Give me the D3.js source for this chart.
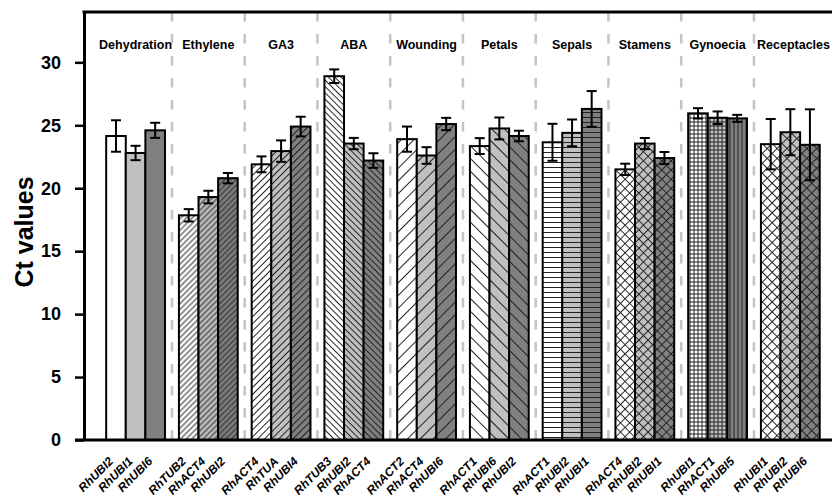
<!DOCTYPE html>
<html>
<head>
<meta charset="utf-8">
<script src="https://cdn.jsdelivr.net/npm/d3@7"></script>
<style>
body { margin: 0; background: #fff; }
text { font-family: Arial, "Liberation Sans", sans-serif; }
</style>
</head>
<body>
<div id="chart"></div>
<script>
//////////
// Data //
//////////

var groups = ["Dehydration", "Ethylene", "GA3", "ABA", "Wounding", "Petals", "Sepals", "Stamens", "Gynoecia", "Receptacles"];

var genes = [
	["RhUBI2", "RhUBI1", "RhUBI6"],
	["RhTUB2", "RhACT4", "RhUBI2"],
	["RhACT4", "RhTUA", "RhUBI4"],
	["RhTUB3", "RhUBI2", "RhACT4"],
	["RhACT2", "RhACT4", "RhUBI6"],
	["RhACT1", "RhUBI6", "RhUBI2"],
	["RhACT1", "RhUBI2", "RhUBI1"],
	["RhACT4", "RhUBI2", "RhUBI1"],
	["RhUBI1", "RhACT1", "RhUBI5"],
	["RhUBI1", "RhUBI2", "RhUBI6"]
];

var ctMeans = [
	[24.15, 22.8, 24.6],
	[17.85, 19.3, 20.8],
	[21.9, 22.95, 24.9],
	[28.9, 23.55, 22.2],
	[23.9, 22.6, 25.1],
	[23.35, 24.75, 24.15],
	[23.65, 24.4, 26.3],
	[21.5, 23.55, 22.4],
	[25.95, 25.6, 25.55],
	[23.5, 24.45, 23.45]
];

var ctErrors = [
	[1.25, 0.57, 0.6],
	[0.49, 0.5, 0.41],
	[0.63, 0.85, 0.78],
	[0.54, 0.45, 0.58],
	[1.0, 0.66, 0.49],
	[0.63, 0.87, 0.42],
	[1.47, 1.06, 1.42],
	[0.45, 0.44, 0.48],
	[0.41, 0.5, 0.28],
	[2.0, 1.83, 2.82]
];

var yTicks = [0, 5, 10, 15, 20, 25, 30];

////////////
// Styles //
////////////

var barFills = ["#ffffff", "#c0c0c0", "#808080"];
var patternKinds = ["solid", "fwd", "fwd", "back", "fwd", "back", "horiz", "cross", ["grid", "grid", "vert"], "cross"];
var patternGaps = [0, 4, 5, 4.5, 9, 9, 5, 6.5, 4, 7];

///////////////////
// Initial setup //
///////////////////

var width = 832;
var height = 498;
var plotLeft = 84, plotRight = 832, plotTop = 12, plotBottom = 440;

var svg = d3.select("#chart").append("svg")
	.attr("width", width).attr("height", height)
	.style("display", "block");

svg.append("rect").attr("width", width).attr("height", height).attr("fill", "#fff");

var y = d3.scaleLinear().domain([0, 34]).range([plotBottom, plotTop]);
var x0 = d3.scaleBand().domain(groups).range([99.2, 826.7]);
var x1 = d3.scaleBand().domain([0, 1, 2]).range([0, x0.bandwidth()]).paddingOuter(0.356);

//////////////
// Patterns //
//////////////

var defs = svg.append("defs");

function makePattern(id, fill, kind, gap) {
	var angle = 0;
	if (kind == "fwd" || kind == "cross") angle = 45;
	if (kind == "back") angle = -45;
	var p = defs.append("pattern")
		.attr("id", id)
		.attr("patternUnits", "userSpaceOnUse")
		.attr("width", gap).attr("height", gap)
		.attr("patternTransform", "rotate(" + angle + ")");
	p.append("rect").attr("width", gap).attr("height", gap).attr("fill", fill);
	var d = "";
	if (kind == "fwd" || kind == "back" || kind == "vert") d = "M" + gap / 2 + ",0V" + gap;
	if (kind == "horiz") d = "M0," + gap / 2 + "H" + gap;
	if (kind == "grid" || kind == "cross") d = "M" + gap / 2 + ",0V" + gap + "M0," + gap / 2 + "H" + gap;
	p.append("path").attr("d", d).attr("stroke", "#222").attr("stroke-width", 1).attr("fill", "none");
}

groups.forEach(function(g, i) {
	[0, 1, 2].forEach(function(j) {
		var kind = Array.isArray(patternKinds[i]) ? patternKinds[i][j] : patternKinds[i];
		if (kind != "solid") makePattern("pat-" + i + "-" + j, barFills[j], kind, patternGaps[i]);
	});
});

function barFill(i, j) {
	return patternKinds[i] == "solid" ? barFills[j] : "url(#pat-" + i + "-" + j + ")";
}

// Flatten data for binding
var bars = [];
groups.forEach(function(g, i) {
	genes[i].forEach(function(gene, j) {
		bars.push({ g: g, gi: i, j: j, gene: gene, v: ctMeans[i][j], e: ctErrors[i][j] });
	});
});

////////////////
// Separators //
////////////////

svg.selectAll("line.sep").data(groups.slice(1)).enter().append("line")
	.attr("class", "sep")
	.attr("x1", function(d) { return x0(d); })
	.attr("x2", function(d) { return x0(d); })
	.attr("y1", plotTop)
	.attr("y2", plotBottom)
	.attr("stroke", "#c4c4c4")
	.attr("stroke-width", 2.5)
	.attr("stroke-dasharray", "9.5,12.5");

//////////
// Bars //
//////////

svg.selectAll("rect.bar").data(bars).enter().append("rect")
	.attr("class", "bar")
	.attr("x", function(d) { return x0(d.g) + x1(d.j); })
	.attr("y", function(d) { return y(d.v); })
	.attr("width", x1.bandwidth())
	.attr("height", function(d) { return y(0) - y(d.v); })
	.attr("fill", function(d) { return barFill(d.gi, d.j); })
	.attr("stroke", "#000")
	.attr("stroke-width", 2);

// Error bars
var eb = svg.selectAll("g.err").data(bars).enter().append("g")
	.attr("class", "err")
	.attr("transform", function(d) { return "translate(" + (x0(d.g) + x1(d.j) + x1.bandwidth() / 2) + ",0)"; })
	.attr("stroke", "#000")
	.attr("stroke-width", 2);
eb.append("line").attr("y1", function(d) { return y(d.v + d.e); }).attr("y2", function(d) { return y(d.v - d.e); });
eb.append("line").attr("x1", -5).attr("x2", 5).attr("y1", function(d) { return y(d.v + d.e); }).attr("y2", function(d) { return y(d.v + d.e); });
eb.append("line").attr("x1", -5).attr("x2", 5).attr("y1", function(d) { return y(d.v - d.e); }).attr("y2", function(d) { return y(d.v - d.e); });

//////////
// Axes //
//////////

var yAxis = svg.append("g")
	.attr("transform", "translate(" + plotLeft + ",0)")
	.call(d3.axisLeft(y).tickValues(yTicks).tickSize(9).tickSizeOuter(0).tickPadding(14));
yAxis.select(".domain").attr("stroke-width", 3);
yAxis.selectAll(".tick line").attr("stroke-width", 2.5);
yAxis.selectAll(".tick text")
	.attr("font-family", "Arial, 'Liberation Sans', sans-serif")
	.attr("font-size", "18px")
	.attr("font-weight", "bold")
	.attr("fill", "#000");

svg.append("line")
	.attr("x1", plotLeft - 9).attr("x2", plotRight)
	.attr("y1", plotBottom).attr("y2", plotBottom)
	.attr("stroke", "#000").attr("stroke-width", 3);

svg.append("line")
	.attr("x1", plotLeft - 1.5).attr("x2", plotRight)
	.attr("y1", plotTop).attr("y2", plotTop)
	.attr("stroke", "#000").attr("stroke-width", 3);

// Axis title
svg.append("text")
	.attr("transform", "translate(33,232) rotate(-90)")
	.attr("text-anchor", "middle")
	.attr("font-size", "25px")
	.attr("font-weight", "bold")
	.text("Ct values");

// Gene labels
svg.selectAll("text.gene").data(bars).enter().append("text")
	.attr("class", "gene")
	.attr("transform", function(d) { return "translate(" + (x0(d.g) + x1(d.j) + x1.bandwidth() / 2 - 2) + ",462) rotate(-45)"; })
	.attr("text-anchor", "end")
	.attr("font-size", "12px")
	.attr("font-weight", "bold")
	.attr("font-style", "italic")
	.text(function(d) { return d.gene; });

// Group labels (last one pushed against the right edge so it stays visible)
svg.selectAll("text.group").data(groups).enter().append("text")
	.attr("class", "group")
	.attr("x", function(d, i) { return i == groups.length - 1 ? plotRight - 2 : x0(d) + x0.bandwidth() / 2; })
	.attr("y", 49)
	.attr("text-anchor", function(d, i) { return i == groups.length - 1 ? "end" : "middle"; })
	.attr("font-size", "12.5px")
	.attr("font-weight", "bold")
	.text(function(d) { return d; });
</script>
</body>
</html>
